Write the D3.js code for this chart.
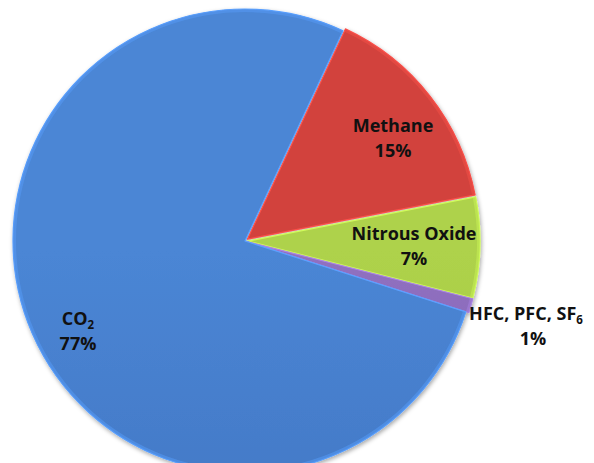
<!DOCTYPE html>
<html>
<head>
<meta charset="utf-8">
<script src="https://cdn.jsdelivr.net/npm/d3@7"></script>
<style>
  html, body { margin: 0; padding: 0; background: #fff; }
  svg { display: block; }
  .lbl { font-family: "Open Sans", Lato, sans-serif; font-weight: bold; fill: #111; }
</style>
</head>
<body>
<svg id="chart" width="594" height="463"></svg>
<script>
// Greenhouse gas shares (percent)
const gases = ["Methane", "Nitrous Oxide", "HFC, PFC, SF6", "CO2"];
const shares = [15, 7, 1, 77];
const percentLabels = ["15%", "7%", "1%", "77%"];
const topColors = ["#d2433e", "#aed24b", "#9070c0", "#4b86d5"];
const bottomColors = ["#b83936", "#9bbe3d", "#7c5aa9", "#3c6fbb"];

const width = 594, height = 463;
const cx = 245, cy = 241, radius = 232;
const startAngle = 25 * Math.PI / 180;

const svg = d3.select("#chart");
const defs = svg.append("defs");

// soft drop shadow under the pie
const shadow = defs.append("filter").attr("id", "shadow")
  .attr("x", "-10%").attr("y", "-10%").attr("width", "120%").attr("height", "120%");
shadow.append("feDropShadow").attr("dx", 1).attr("dy", 2).attr("stdDeviation", 2)
  .attr("flood-color", "#000").attr("flood-opacity", 0.35);

gases.forEach((g, i) => {
  const grad = defs.append("linearGradient").attr("id", "grad" + i)
    .attr("gradientUnits", "userSpaceOnUse")
    .attr("x1", 0).attr("y1", cy - radius).attr("x2", 0).attr("y2", cy + radius);
  grad.append("stop").attr("offset", "0%").attr("stop-color", topColors[i]);
  grad.append("stop").attr("offset", "100%").attr("stop-color", bottomColors[i]);
});

const pie = d3.pie().sort(null).value(d => d)
  .startAngle(startAngle).endAngle(startAngle + 2 * Math.PI);
const arcs = pie(shares);
const arc = d3.arc().innerRadius(0).outerRadius(radius);
const rim = d3.arc().innerRadius(radius - 3).outerRadius(radius);

// slight separation for the smaller slices
const explode = [3, 3, 3, 0];

const g = svg.append("g").attr("transform", `translate(${cx},${cy})`).attr("filter", "url(#shadow)");

const slices = g.selectAll("g.slice").data(arcs).join("g")
  .attr("class", "slice")
  .attr("transform", (d, i) => {
    const a = (d.startAngle + d.endAngle) / 2;
    return `translate(${Math.sin(a) * explode[i]},${-Math.cos(a) * explode[i]})`;
  });

slices.append("path")
  .attr("d", arc)
  .attr("fill", (d, i) => `url(#grad${i})`)
  .attr("stroke", (d, i) => d3.color(topColors[i]).brighter(0.5))
  .attr("stroke-width", 1.2)
  .attr("stroke-linejoin", "round");

// lighter bevel along the outer rim
slices.append("path")
  .attr("d", rim)
  .attr("fill", (d, i) => d3.color(topColors[i]).brighter(0.35))
  .attr("opacity", 0.6);

// Labels
const labelPos = [
  { x: 393, y: 132 },
  { x: 414, y: 240 },
  { x: 526, y: 320 },
  { x: 78, y: 325 }
];
const fontSize = 18;

labelPos.forEach((p, i) => {
  const t = svg.append("text").attr("class", "lbl")
    .attr("x", p.x).attr("y", p.y)
    .attr("text-anchor", "middle")
    .style("font-size", fontSize + "px");
  const name = gases[i];
  if (name === "CO2") {
    t.append("tspan").text("CO");
    t.append("tspan").attr("dy", 4).style("font-size", "11.5px").text("2");
  } else if (name === "HFC, PFC, SF6") {
    t.append("tspan").text("HFC, PFC, SF");
    t.append("tspan").attr("dy", 4).style("font-size", "11.5px").text("6");
  } else {
    t.text(name);
  }
  svg.append("text").attr("class", "lbl")
    .attr("x", i === 2 ? 533 : p.x).attr("y", p.y + 25)
    .attr("text-anchor", "middle")
    .style("font-size", fontSize + "px")
    .text(percentLabels[i]);
});
</script>
</body>
</html>
